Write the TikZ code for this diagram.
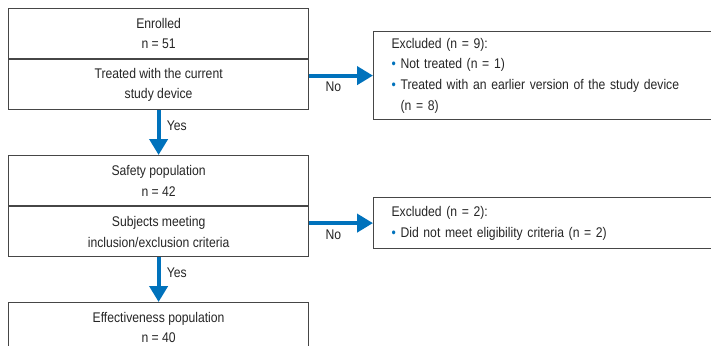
\documentclass[tikz,border=0pt]{standalone}
\usepackage{fontspec}
\setmainfont{Liberation Sans}[FakeStretch=0.87]
\usepackage{tikz}
\usetikzlibrary{arrows.meta}

\definecolor{flowblue}{RGB}{0,114,188}
\definecolor{boxgray}{RGB}{70,70,70}
\newcommand{\bul}{{\color{flowblue}\textbullet}\ }

\begin{document}
\begin{tikzpicture}[x=1pt, y=-1pt,
    every node/.style={font=\fontsize{14pt}{20.7pt}\selectfont, text=black!85},
    stagebox/.style={draw=boxgray, line width=1.2pt, minimum width=300pt, minimum height=50pt, inner sep=0pt, align=center},
    exclbox/.style={draw=boxgray, line width=1.2pt, text width=345pt, inner xsep=18pt, inner ysep=0pt, align=left},
    flow/.style={draw=flowblue, line width=4pt, -{Triangle[length=16pt, width=18pt]}}]
  \useasboundingbox (0,0) rectangle (711,345);
  \fill[white] (0,0) rectangle (711,345);
  \clip (0,0) rectangle (711,345);
  % left column
  \node[stagebox, anchor=north west] (enrolled) at (8,8) {Enrolled\\n = 51};
  \node[stagebox, anchor=north] (treated) at (enrolled.south) {Treated with the current\\study device};
  \node[stagebox, anchor=north west] (safety) at (8,155) {Safety population\\n = 42};
  \node[stagebox, anchor=north] (criteria) at (safety.south) {Subjects meeting\\inclusion/exclusion criteria};
  \node[stagebox, anchor=north west] (effective) at (8,302) {Effectiveness population\\n = 40};
  % exclusions
  \node[exclbox, anchor=north west, minimum height=88pt] (excl1) at (373,31) {Excluded (n = 9):\\
    \bul Not treated (n = 1)\\
    \bul Treated with an earlier version of the study device\\
    \hphantom{\bul}(n = 8)};
  \node[exclbox, anchor=north west, minimum height=51pt] (excl2) at (373,197) {Excluded (n = 2):\\
    \bul Did not meet eligibility criteria (n = 2)};
  % arrows
  \draw[flow] (treated.south) -- (safety.north) node[pos=0.35, right=3pt] {Yes};
  \draw[flow] (criteria.south) -- (effective.north) node[pos=0.35, right=3pt] {Yes};
  \draw[flow] (treated.east |- excl1.west) -- (excl1.west) node[pos=0.38, below=1pt] {No};
  \draw[flow] (criteria.east |- excl2.west) -- (excl2.west) node[pos=0.38, below=1pt] {No};
\end{tikzpicture}
\end{document}
